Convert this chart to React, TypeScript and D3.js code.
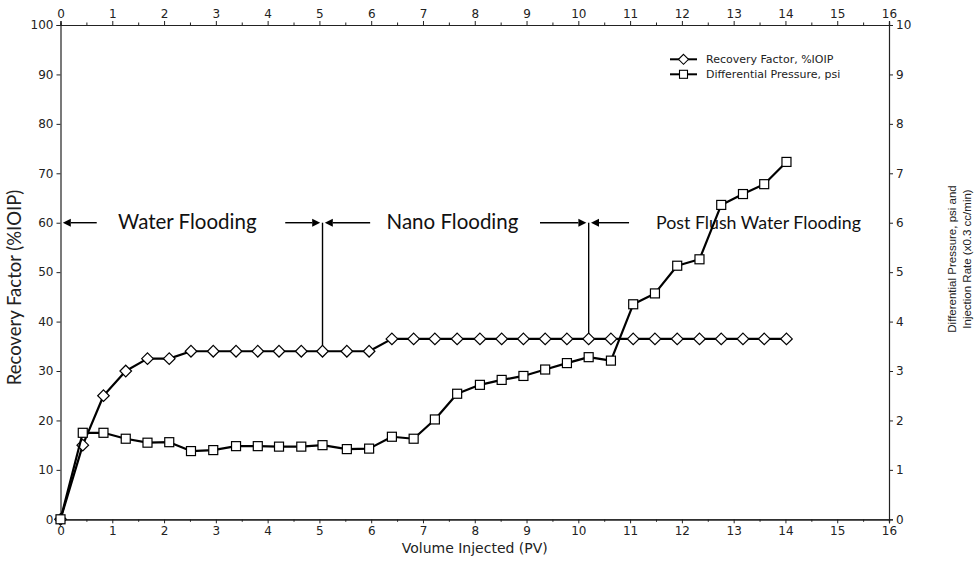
import React, { useEffect, useRef } from "react";
import * as d3 from "d3";

// Core-flood history: pore volumes injected vs recovery and pressure drop
const pvInjected = [
  0, 0.43, 0.83, 1.26, 1.68, 2.1, 2.52, 2.95, 3.39, 3.81, 4.22, 4.65, 5.06,
  5.53, 5.96, 6.4, 6.82, 7.23, 7.66, 8.1, 8.52, 8.94, 9.36, 9.78, 10.2, 10.63,
  11.06, 11.48, 11.91, 12.34, 12.76, 13.18, 13.59, 14.02,
];
const recoveryFactor = [
  0, 15, 25, 30, 32.5, 32.5, 34, 34, 34, 34, 34, 34, 34, 34, 34, 36.5, 36.5,
  36.5, 36.5, 36.5, 36.5, 36.5, 36.5, 36.5, 36.5, 36.5, 36.5, 36.5, 36.5, 36.5,
  36.5, 36.5, 36.5, 36.5,
];
const diffPressure = [
  0, 1.75, 1.75, 1.63, 1.55, 1.56, 1.38, 1.4, 1.48, 1.48, 1.47, 1.47, 1.5,
  1.42, 1.43, 1.67, 1.63, 2.02, 2.54, 2.72, 2.82, 2.9, 3.03, 3.16, 3.28, 3.21,
  4.35, 4.57, 5.13, 5.26, 6.36, 6.58, 6.78, 7.23,
];

const xTicks = d3.range(0, 17, 1);
const xMinorTicks = d3.range(0.5, 16, 1);
const leftTicks = d3.range(0, 101, 10);
const rightTicks = d3.range(0, 11, 1);

// Flooding stages: boundaries (PV), labels and arrow spans
const stageBoundaries = [5.06, 10.2];
const stageBoundaryTop = 60;
const stageLabels = [
  { text: "Water Flooding", x: 2.45, anchor: "middle", size: 20.5 },
  { text: "Nano Flooding", x: 7.57, anchor: "middle", size: 20.5 },
  { text: "Post Flush Water Flooding", x: 11.5, anchor: "start", size: 17.8 },
];
const stageArrows = [
  { from: 0.7, to: 0 },
  { from: 4.34, to: 5.06 },
  { from: 5.98, to: 5.06 },
  { from: 9.26, to: 10.2 },
  { from: 10.98, to: 10.2 },
];

const W = 978;
const H = 561;
const margin = { left: 60.5, right: 89, top: 25, bottom: 41.7 };

export default function App() {
  const ref = useRef<SVGSVGElement | null>(null);

  useEffect(() => {
    const svg = d3.select(ref.current);
    svg.selectAll("*").remove();

    const x = d3.scaleLinear().domain([0, 16]).range([margin.left, W - margin.right]);
    const yL = d3.scaleLinear().domain([0, 100]).range([H - margin.bottom, margin.top]);
    const yR = d3.scaleLinear().domain([0, 10]).range([H - margin.bottom, margin.top]);

    const axisColor = "#222";
    const tickFont = "'DejaVu Sans', sans-serif";

    const styleAxis = (g: d3.Selection<SVGGElement, unknown, null, undefined>) => {
      g.selectAll(".domain").attr("stroke", axisColor).attr("stroke-width", 1.2);
      g.selectAll(".tick line").attr("stroke", axisColor).attr("stroke-width", 1);
      g.selectAll(".tick text")
        .attr("fill", "#222")
        .style("font-family", tickFont)
        .style("font-size", "12px");
    };

    const y0 = H - margin.bottom;
    const x1 = W - margin.right;

    // minor ticks on horizontal axes
    svg.append("g")
      .attr("transform", `translate(0,${y0})`)
      .call(d3.axisBottom(x).tickValues(xMinorTicks).tickSize(2.5).tickFormat(() => ""))
      .call(styleAxis);
    svg.append("g")
      .attr("transform", `translate(0,${margin.top})`)
      .call(d3.axisTop(x).tickValues(xMinorTicks).tickSize(2.5).tickFormat(() => ""))
      .call(styleAxis);

    svg.append("g")
      .attr("transform", `translate(0,${y0})`)
      .call(d3.axisBottom(x).tickValues(xTicks).tickSize(4).tickPadding(3).tickFormat(d3.format("d")))
      .call(styleAxis);
    svg.append("g")
      .attr("transform", `translate(0,${margin.top})`)
      .call(d3.axisTop(x).tickValues(xTicks).tickSize(4).tickPadding(3).tickFormat(d3.format("d")))
      .call(styleAxis);
    svg.append("g")
      .attr("transform", `translate(${margin.left},0)`)
      .call(d3.axisLeft(yL).tickValues(leftTicks).tickSize(4).tickPadding(3).tickFormat(d3.format("d")))
      .call(styleAxis);
    svg.append("g")
      .attr("transform", `translate(${x1},0)`)
      .call(d3.axisRight(yR).tickValues(rightTicks).tickSize(4).tickPadding(3).tickFormat(d3.format("d")))
      .call(styleAxis);

    // axis titles
    svg.append("text")
      .attr("x", (margin.left + x1) / 2)
      .attr("y", 553)
      .attr("text-anchor", "middle")
      .style("font-family", tickFont)
      .style("font-size", "14px")
      .attr("fill", "#222")
      .text("Volume Injected (PV)");

    svg.append("text")
      .attr("transform", `translate(21,287.5) rotate(-90)`)
      .attr("text-anchor", "middle")
      .style("font-family", "Lato, 'Open Sans', sans-serif")
      .style("font-size", "18.5px")
      .attr("fill", "#222")
      .text("Recovery Factor (%IOIP)");

    const rLabel = svg.append("text")
      .attr("transform", `translate(956,259) rotate(-90)`)
      .attr("text-anchor", "middle")
      .style("font-family", "'Liberation Sans', Arial, sans-serif")
      .style("font-size", "11.5px")
      .attr("fill", "#222");
    rLabel.append("tspan").attr("x", 0).attr("dy", 0).text("Differential Pressure, psi and");
    rLabel.append("tspan").attr("x", 0).attr("dy", 15).text("Injection Rate (x0.3 cc/min)");

    // stage boundaries
    stageBoundaries.forEach((b) => {
      const i = d3.bisectLeft(pvInjected, b - 0.01);
      const rf = recoveryFactor[Math.min(i, recoveryFactor.length - 1)];
      svg.append("line")
        .attr("x1", x(b)).attr("x2", x(b))
        .attr("y1", yL(stageBoundaryTop)).attr("y2", yL(rf))
        .attr("stroke", "#000").attr("stroke-width", 1.4);
    });

    // stage arrows
    const ay = yL(stageBoundaryTop);
    stageArrows.forEach((a) => {
      const dir = a.to > a.from ? 1 : -1;
      const tip = x(a.to) - dir * 2.3;
      const start = x(a.from);
      const headLen = 8;
      svg.append("line")
        .attr("x1", start).attr("x2", tip - dir * headLen)
        .attr("y1", ay).attr("y2", ay)
        .attr("stroke", "#000").attr("stroke-width", 1.4);
      svg.append("path")
        .attr("d", `M${tip},${ay} L${tip - dir * headLen},${ay - 4} L${tip - dir * headLen},${ay + 4} Z`)
        .attr("fill", "#000");
    });

    stageLabels.forEach((s) => {
      svg.append("text")
        .attr("x", x(s.x))
        .attr("y", ay + 6.5)
        .attr("text-anchor", s.anchor)
        .style("font-family", "Lato, 'Open Sans', sans-serif")
        .style("font-size", `${s.size}px`)
        .attr("fill", "#111")
        .text(s.text);
    });

    // series
    const rfPts = pvInjected.map((v, i) => [x(v), yL(recoveryFactor[i])] as [number, number]);
    const dpPts = pvInjected.map((v, i) => [x(v), yR(diffPressure[i])] as [number, number]);
    const line = d3.line();

    svg.append("path")
      .attr("d", line(rfPts) as string)
      .attr("fill", "none").attr("stroke", "#000").attr("stroke-width", 2.2)
      .attr("stroke-linejoin", "round");
    const diamond = (cx: number, cy: number, r: number) =>
      `M${cx},${cy - r} L${cx + r},${cy} L${cx},${cy + r} L${cx - r},${cy} Z`;
    svg.append("g").selectAll("path")
      .data(rfPts)
      .join("path")
      .attr("d", (p) => diamond(p[0], p[1], 5.8))
      .attr("fill", "#fff").attr("stroke", "#000").attr("stroke-width", 1.2);

    svg.append("path")
      .attr("d", line(dpPts) as string)
      .attr("fill", "none").attr("stroke", "#000").attr("stroke-width", 2.2)
      .attr("stroke-linejoin", "round");
    svg.append("g").selectAll("rect")
      .data(dpPts)
      .join("rect")
      .attr("x", (p) => p[0] - 4.5).attr("y", (p) => p[1] - 4.5)
      .attr("width", 9).attr("height", 9)
      .attr("fill", "#fff").attr("stroke", "#000").attr("stroke-width", 1.2);

    // legend
    const legendItems = [
      { label: "Recovery Factor, %IOIP", marker: "diamond" },
      { label: "Differential Pressure, psi", marker: "square" },
    ];
    legendItems.forEach((it, i) => {
      const ly = 59.3 + i * 15;
      const lx0 = 670, lx1 = 697, cx = 683.5;
      svg.append("line")
        .attr("x1", lx0).attr("x2", lx1).attr("y1", ly).attr("y2", ly)
        .attr("stroke", "#000").attr("stroke-width", 2);
      if (it.marker === "diamond") {
        svg.append("path").attr("d", diamond(cx, ly, 5))
          .attr("fill", "#fff").attr("stroke", "#000").attr("stroke-width", 1.1);
      } else {
        svg.append("rect").attr("x", cx - 4).attr("y", ly - 4).attr("width", 8).attr("height", 8)
          .attr("fill", "#fff").attr("stroke", "#000").attr("stroke-width", 1.1);
      }
      svg.append("text")
        .attr("x", 706).attr("y", ly + 4)
        .style("font-family", tickFont)
        .style("font-size", "11px")
        .attr("fill", "#222")
        .text(it.label);
    });
  }, []);

  return (
    <svg
      ref={ref}
      width={W}
      height={H}
      style={{ position: "absolute", left: 0, top: 0, background: "#fff" }}
    />
  );
}
